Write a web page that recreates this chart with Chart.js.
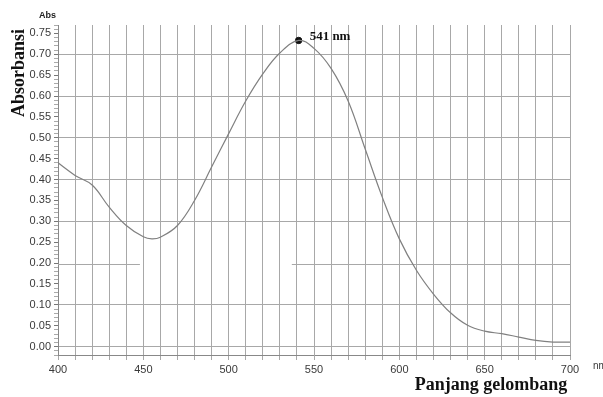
<!DOCTYPE html>
<html lang="id">
<head>
  <meta charset="UTF-8">
  <title>Spektrum Absorbansi</title>
  <script src="https://cdn.jsdelivr.net/npm/chart.js"></script>
  <style>
    html, body {
      margin: 0;
      padding: 0;
      background: #fff;
    }
    #wrap {
      width: 603px;
      height: 397px;
    }
  </style>
</head>
<body>
  <div id="wrap"><canvas id="spectrum" width="603" height="397"></canvas></div>

  <script>
    // readings taken off the scanned spectrum
    const wavelengths = [400, 410, 420, 430, 440, 450, 455, 460, 470, 480, 490, 500, 510, 520, 530, 541,
                         550, 560, 570, 580, 590, 600, 610, 620, 630, 640, 650, 660, 670, 680, 690, 700];
    const absorbance = [0.442, 0.412, 0.389, 0.336, 0.292, 0.265, 0.26, 0.264, 0.292, 0.352, 0.432, 0.512, 0.59, 0.655, 0.705, 0.735,
                        0.716, 0.668, 0.59, 0.475, 0.36, 0.26, 0.185, 0.128, 0.083, 0.053, 0.039, 0.033, 0.025, 0.017, 0.013, 0.013];
    const peakNm = 541;
    const peakAbs = 0.735;
    const peakLabel = '541 nm';
    const xTickLabels = [400, 450, 500, 550, 600, 650, 700];
    const yTickLabels = [0, 0.05, 0.1, 0.15, 0.2, 0.25, 0.3, 0.35, 0.4, 0.45, 0.5, 0.55, 0.6, 0.65, 0.7, 0.75];

    const gridGray = '#a8a8a8';
    const textGray = '#3a3a3a';

    const extras = {
      id: 'extras',
      beforeDatasetsDraw(chart) {
        const { ctx, scales: { x, y } } = chart;
        // the scan only shows the 0.20 line in two pieces
        ctx.save();
        ctx.strokeStyle = gridGray;
        ctx.lineWidth = 1;
        const py = Math.round(y.getPixelForValue(0.2)) + 0.5;
        ctx.beginPath();
        ctx.moveTo(x.getPixelForValue(400), py);
        ctx.lineTo(x.getPixelForValue(448), py);
        ctx.moveTo(x.getPixelForValue(537), py);
        ctx.lineTo(x.getPixelForValue(700), py);
        ctx.stroke();
        ctx.restore();
      },
      afterDraw(chart) {
        const { ctx, scales: { x, y } } = chart;
        ctx.save();
        ctx.fillStyle = '#111';
        ctx.font = 'bold 13px "Liberation Serif", serif';
        ctx.textBaseline = 'middle';
        ctx.fillText(peakLabel, x.getPixelForValue(peakNm) + 11, y.getPixelForValue(peakAbs) - 4);

        ctx.font = 'bold 9px "Liberation Sans", Arial, sans-serif';
        ctx.fillStyle = '#222';
        ctx.fillText('Abs', 39, 16);

        ctx.font = '10px "Liberation Sans", Arial, sans-serif';
        ctx.fillStyle = textGray;
        ctx.fillText('nm', 593, 366);

        ctx.textBaseline = 'alphabetic';
        ctx.font = 'bold 18px "Liberation Serif", serif';
        ctx.fillStyle = '#111';
        ctx.textAlign = 'center';
        ctx.fillText('Panjang gelombang', 491, 390);

        ctx.translate(24, 73);
        ctx.rotate(-Math.PI / 2);
        ctx.fillText('Absorbansi', 0, 0);
        ctx.restore();
      }
    };

    const ctx = document.getElementById('spectrum').getContext('2d');
    new Chart(ctx, {
      type: 'line',
      data: {
        datasets: [
          {
            data: wavelengths.map((w, i) => ({ x: w, y: absorbance[i] })),
            borderColor: '#808080',
            borderWidth: 1.2,
            pointRadius: 0,
            tension: 0.4,
            fill: false
          },
          {
            data: [{ x: peakNm, y: peakAbs }],
            showLine: false,
            pointRadius: 3.2,
            pointBackgroundColor: '#111',
            pointBorderColor: '#111'
          }
        ]
      },
      options: {
        responsive: false,
        animation: false,
        layout: { padding: { top: 25, right: 33, left: 0, bottom: 0 } },
        plugins: {
          legend: { display: false },
          tooltip: { enabled: false }
        },
        scales: {
          x: {
            type: 'linear',
            min: 400,
            max: 700,
            afterFit: s => { s.height = 42; },
            border: { display: true, color: '#888', width: 1 },
            grid: {
              color: gridGray,
              lineWidth: 1,
              tickLength: 5,
              tickColor: gridGray
            },
            ticks: {
              stepSize: 10,
              autoSkip: false,
              maxRotation: 0,
              color: textGray,
              padding: 3,
              font: { family: '"Liberation Sans", Arial, sans-serif', size: 11 },
              callback: v => xTickLabels.includes(v) ? String(v) : ''
            }
          },
          y: {
            min: -0.018,
            max: 0.772,
            afterFit: s => { s.width = 58; },
            border: { display: true, color: '#888', width: 1 },
            grid: {
              color: c => {
                const k = Math.round(c.tick.value * 100);
                return (k % 10 === 0 && k !== 20) ? gridGray : 'rgba(0,0,0,0)';
              },
              lineWidth: 1,
              tickLength: 4,
              tickColor: c => {
                const k = Math.round(c.tick.value * 100);
                return k % 5 === 0 ? '#777' : '#aaa';
              }
            },
            ticks: {
              stepSize: 0.01,
              includeBounds: false,
              autoSkip: false,
              color: textGray,
              padding: 3,
              font: { family: '"Liberation Sans", Arial, sans-serif', size: 11 },
              callback: v => {
                const k = Math.round(v * 100);
                return yTickLabels.some(t => Math.round(t * 100) === k) ? (k / 100).toFixed(2) : '';
              }
            }
          }
        }
      },
      plugins: [extras]
    });
  </script>
</body>
</html>
